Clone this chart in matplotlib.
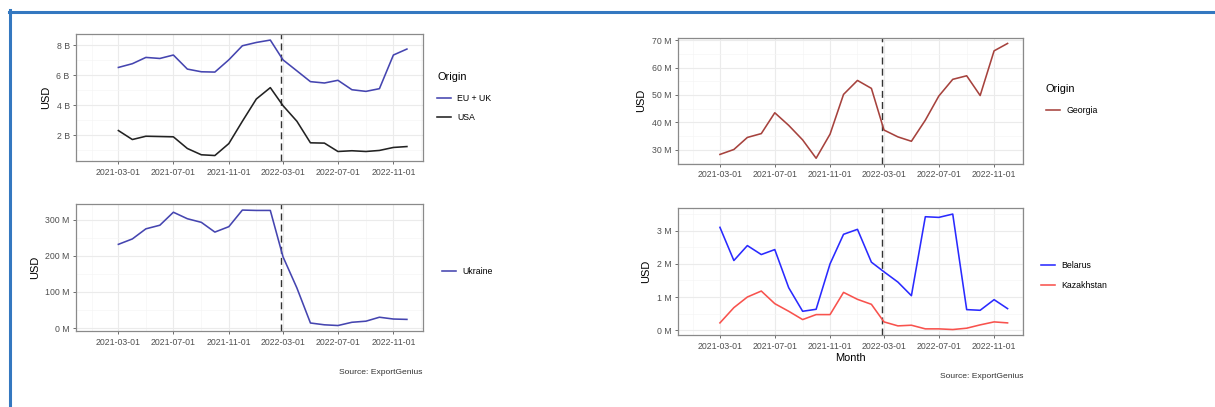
import numpy as np
import pandas as pd
import matplotlib
matplotlib.use("Agg")
import matplotlib.pyplot as plt
import matplotlib.dates as mdates
from matplotlib.ticker import FuncFormatter, MultipleLocator
from matplotlib.lines import Line2D

plt.rcParams['font.family'] = ['Liberation Sans', 'DejaVu Sans']

months = pd.date_range('2021-03-01', periods=22, freq='MS')
invasion = pd.Timestamp('2022-02-24')

# imports by origin (EU+UK and USA in billions, the rest in millions of USD)
eu_uk = [6.53, 6.78, 7.20, 7.13, 7.36, 6.42, 6.24, 6.22, 7.04, 7.98, 8.20, 8.36,
         7.04, 6.30, 5.58, 5.49, 5.67, 5.04, 4.93, 5.11, 7.36, 7.76]
usa = [2.31, 1.71, 1.93, 1.91, 1.89, 1.11, 0.69, 0.64, 1.44, 2.93, 4.42, 5.18,
       3.98, 2.93, 1.49, 1.47, 0.91, 0.96, 0.91, 0.98, 1.18, 1.24]
ukraine = [232, 247, 275, 285, 321, 303, 293, 266, 281, 327, 326, 326,
           198, 111, 14, 9, 7, 16, 19, 30, 25, 24]
georgia = [28.3, 30.1, 34.5, 35.9, 43.5, 38.9, 33.6, 26.9, 35.7, 50.2, 55.3, 52.4,
           37.2, 34.7, 33.1, 40.8, 49.6, 55.7, 57.0, 49.8, 66.1, 68.8]
belarus = [3.10, 2.10, 2.55, 2.28, 2.43, 1.28, 0.57, 0.63, 2.00, 2.89, 3.04, 2.05,
           1.76, 1.45, 1.04, 3.42, 3.40, 3.50, 0.62, 0.60, 0.92, 0.65]
kazakhstan = [0.22, 0.68, 1.00, 1.18, 0.80, 0.57, 0.32, 0.47, 0.47, 1.14, 0.93, 0.78,
              0.25, 0.13, 0.15, 0.04, 0.04, 0.02, 0.06, 0.16, 0.25, 0.22]

W, H = 1215, 407
fig = plt.figure(figsize=(W / 100, H / 100), dpi=100)

# blue frame along the top and left edge
fig.add_artist(Line2D([10 / W, 10 / W], [0, 1 - 10 / H], color='#3478c0', lw=2.2))
fig.add_artist(Line2D([9 / W, 1], [1 - 12 / H, 1 - 12 / H], color='#3478c0', lw=2.2))

xlim = (pd.Timestamp('2020-11-27'), pd.Timestamp('2023-01-05'))


def panel(left, top, right, bottom):
    ax = fig.add_axes([left / W, 1 - bottom / H, (right - left) / W, (bottom - top) / H])
    ax.set_xlim(xlim)
    ax.xaxis.set_major_locator(mdates.MonthLocator(bymonth=[3, 7, 11]))
    ax.xaxis.set_minor_locator(mdates.MonthLocator(bymonth=[1, 5, 9]))
    ax.xaxis.set_major_formatter(mdates.DateFormatter('%Y-%m-%d'))
    ax.grid(which='major', color='#ebebeb', lw=0.8)
    ax.grid(which='minor', color='#f5f5f5', lw=0.5)
    ax.set_axisbelow(True)
    for s in ax.spines.values():
        s.set_color('#8a8a8a')
        s.set_linewidth(0.9)
    ax.tick_params(which='major', length=2.5, width=0.6, color='#555555',
                   labelsize=6.3, labelcolor='#505050', pad=2)
    ax.tick_params(which='minor', length=0)
    ax.axvline(invasion, color='#333333', lw=1.0, ls=(0, (5, 3)))
    ax.set_ylabel('USD', fontsize=7.9, labelpad=4)
    return ax


def unit(suffix):
    return FuncFormatter(lambda v, p: f'{v:g} {suffix}')


def legend(ax, x, y, title=None, spacing=1.15):
    leg = ax.legend(loc='upper left', bbox_to_anchor=(x / W, 1 - y / H),
                    bbox_transform=fig.transFigure, frameon=False, fontsize=6.3,
                    title=title, title_fontsize=7.9, handlelength=1.6,
                    labelspacing=spacing, handletextpad=0.7, borderpad=0, borderaxespad=0)
    if title:
        leg._legend_box.align = 'left'
        leg._legend_box.sep = 8
    return leg


# EU + UK vs USA
ax1 = panel(76, 34.3, 422.7, 161.3)
ax1.plot(months, eu_uk, color='#4545b0', lw=1.15, label='EU + UK')
ax1.plot(months, usa, color='#222222', lw=1.15, label='USA')
ax1.yaxis.set_major_locator(MultipleLocator(2))
ax1.yaxis.set_minor_locator(MultipleLocator(1))
ax1.yaxis.set_major_formatter(unit('B'))
legend(ax1, 437, 72.5, 'Origin')

# Ukraine
ax2 = panel(76, 204.3, 422.7, 331.3)
ax2.plot(months, ukraine, color='#4545b0', lw=1.15, label='Ukraine')
ax2.yaxis.set_major_locator(MultipleLocator(100))
ax2.yaxis.set_minor_locator(MultipleLocator(50))
ax2.yaxis.set_major_formatter(unit('M'))
legend(ax2, 442, 267)
fig.text(422.7 / W, 1 - 372 / H, 'Source: ExportGenius', ha='right', va='center',
         fontsize=6.1, color='#333333')

# Georgia
ax3 = panel(677.7, 37.7, 1023.3, 164)
ax3.plot(months, georgia, color='#a6423d', lw=1.15, label='Georgia')
ax3.yaxis.set_major_locator(MultipleLocator(10))
ax3.yaxis.set_minor_locator(MultipleLocator(5))
ax3.yaxis.set_major_formatter(unit('M'))
legend(ax3, 1046, 84.5, 'Origin')

# Belarus and Kazakhstan
ax4 = panel(677.7, 208.3, 1023.3, 335.3)
ax4.plot(months, belarus, color='#2a2aff', lw=1.15, label='Belarus')
ax4.plot(months, kazakhstan, color='#f8524d', lw=1.15, label='Kazakhstan')
ax4.yaxis.set_major_locator(MultipleLocator(1))
ax4.yaxis.set_minor_locator(MultipleLocator(0.5))
ax4.yaxis.set_major_formatter(unit('M'))
ax4.set_xlabel('Month', fontsize=7.9, labelpad=2)
legend(ax4, 1041, 261, spacing=1.3)
fig.text(1023.3 / W, 1 - 376 / H, 'Source: ExportGenius', ha='right', va='center',
         fontsize=6.1, color='#333333')

fig.savefig('out.png', dpi=100, facecolor='white')
